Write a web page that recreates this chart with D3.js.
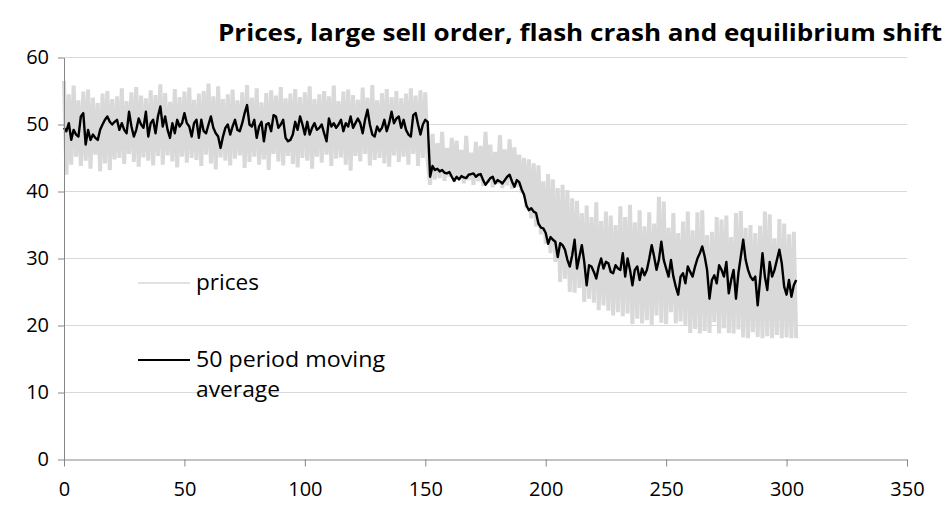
<!DOCTYPE html>
<html>
<head>
<meta charset="utf-8">
<script src="https://cdn.jsdelivr.net/npm/d3@7/dist/d3.min.js"></script>
<style>
  html, body { margin: 0; padding: 0; background: #fff; }
  svg { display: block; font-family: "Open Sans", sans-serif; }
</style>
</head>
<body>
<svg id="chart" width="947" height="510"></svg>
<script>
// ---- data (period index = position in array) ----
const titleText = "Prices, large sell order, flash crash and equilibrium shift";
const xTicks = [0, 50, 100, 150, 200, 250, 300, 350];
const yTicks = [0, 10, 20, 30, 40, 50, 60];
const seriesNames = ["prices", "50 period moving average"];

const prices = [
  // 0-49
  56.5, 42.5, 54.5, 44.0, 55.8, 45.2, 53.6, 43.8, 54.9, 44.6,
  55.2, 43.4, 54.0, 45.5, 53.2, 43.0, 54.6, 44.2, 55.0, 43.2,
  53.8, 44.8, 54.2, 45.0, 55.4, 44.1, 53.5, 45.6, 54.8, 44.4,
  55.6, 43.7, 54.3, 45.1, 53.9, 44.6, 55.1, 43.9, 54.4, 45.3,
  56.0, 44.0, 54.7, 45.4, 53.4, 44.5, 55.3, 43.6, 54.1, 45.2,
  // 50-99
  54.9, 44.3, 55.5, 45.0, 53.7, 44.7, 54.6, 43.8, 55.0, 45.5,
  56.1, 44.2, 54.2, 43.3, 55.7, 45.1, 53.8, 44.6, 54.5, 43.9,
  55.2, 44.9, 53.6, 45.4, 54.8, 43.5, 55.9, 44.4, 54.0, 45.2,
  55.4, 44.0, 53.3, 44.8, 54.7, 43.2, 55.1, 45.6, 54.3, 44.5,
  55.6, 43.9, 53.9, 45.3, 54.6, 44.1, 55.3, 43.6, 54.1, 45.0,
  // 100-151
  54.8, 44.6, 55.7, 43.4, 53.8, 45.2, 54.5, 44.3, 55.0, 45.5,
  54.2, 43.8, 55.8, 44.9, 53.5, 45.1, 54.9, 44.0, 55.2, 43.1,
  54.4, 45.3, 53.7, 44.5, 55.5, 45.6, 54.0, 43.9, 55.9, 44.7,
  53.6, 45.0, 54.7, 44.2, 55.3, 43.7, 54.1, 45.4, 55.0, 44.4,
  53.9, 45.2, 54.6, 44.0, 55.4, 45.6, 54.3, 43.8, 55.1, 45.0,
  54.8, 44.6,
  // 152-191 (after the large sell order)
  41.0, 48.6, 41.8, 47.2, 42.0, 48.9, 41.6, 46.5, 42.2, 48.0,
  41.4, 47.6, 41.9, 46.2, 41.2, 48.3, 41.7, 45.8, 41.0, 47.4,
  41.5, 46.8, 40.8, 48.9, 41.3, 47.0, 40.6, 45.9, 41.1, 48.4,
  40.5, 46.3, 40.9, 47.8, 40.4, 46.6, 40.7, 45.5, 39.8, 45.0,
  // 192-205 (crash)
  37.5, 44.8, 36.0, 44.2, 34.8, 43.9, 33.6, 41.5, 32.2, 42.6,
  30.8, 41.8, 29.5, 40.5,
  // 206-304 (new equilibrium)
  26.5, 41.0, 27.0, 40.2, 25.0, 39.0,
  24.9, 38.6, 25.6, 36.8, 23.5, 37.9,
  24.0, 36.2, 23.4, 38.4, 22.3, 35.6,
  23.0, 37.0, 22.2, 36.4, 21.5, 35.0,
  22.0, 37.8, 21.4, 36.2, 21.8, 38.0,
  20.2, 35.4, 21.0, 37.2, 20.3, 34.8,
  20.8, 36.9, 20.1, 35.2, 21.5, 39.2,
  20.4, 38.5, 20.2, 34.6, 22.0, 36.8,
  20.3, 33.8, 20.6, 35.5, 20.1, 37.0,
  18.9, 34.2, 19.5, 36.9, 18.8, 37.2,
  19.2, 33.5, 18.9, 34.0, 20.5, 36.2,
  18.8, 35.8, 19.6, 36.4, 18.9, 33.2,
  18.8, 36.8, 19.4, 37.1, 18.2, 34.6,
  18.1, 35.0, 19.0, 33.8, 18.3, 34.9,
  18.1, 37.0, 18.4, 36.6, 18.1, 33.0,
  18.6, 35.9, 18.1, 35.2, 18.2, 33.6,
  18.1, 34.0, 18.1
];

const movingAverage = [
  // 0-50
  49.5, 49.0, 50.2, 47.7, 49.2, 48.5, 48.2, 51.2, 51.7, 47.0,
  49.2, 47.7, 48.5, 48.0, 47.7, 49.2, 50.0, 50.7, 51.2, 50.4,
  50.0, 50.4, 50.7, 49.2, 50.2, 49.2, 48.7, 51.9, 49.7, 48.2,
  49.2, 50.9, 50.0, 49.5, 51.9, 48.2, 50.2, 50.7, 48.7, 51.2,
  52.7, 49.7, 51.2, 49.2, 48.0, 50.2, 48.7, 50.7, 49.7, 50.2,
  51.7,
  // 51-101
  50.2, 49.7, 48.2, 50.2, 50.7, 48.0, 50.7, 49.0, 48.7, 50.0,
  51.2, 49.5, 48.7, 48.2, 46.5, 48.2, 49.5, 50.0, 48.5, 49.7,
  50.7, 49.2, 49.0, 50.2, 51.7, 52.9, 50.0, 49.7, 50.7, 48.0,
  49.7, 50.4, 47.5, 50.0, 50.2, 49.0, 51.4, 51.2, 49.5, 50.0,
  50.7, 48.0, 47.5, 47.7, 48.5, 50.4, 49.2, 51.2, 50.0, 48.5,
  50.4,
  // 102-151
  48.5, 49.5, 50.2, 49.2, 49.5, 50.0, 48.7, 47.5, 50.9, 49.7,
  50.2, 49.5, 50.0, 50.7, 49.0, 50.2, 49.7, 51.2, 49.5, 50.2,
  50.9, 50.2, 48.7, 50.7, 52.2, 50.0, 48.5, 48.2, 49.7, 49.0,
  49.5, 50.7, 49.0, 50.2, 51.9, 50.2, 50.9, 51.2, 49.5, 50.7,
  49.2, 48.5, 48.2, 51.4, 51.7, 50.0, 48.5, 50.0, 50.7, 50.4,
  // 152-205
  42.2, 43.8, 43.2, 43.4, 43.0, 43.2, 42.8, 42.7, 42.9, 42.2,
  41.6, 42.2, 41.8, 42.3, 42.1, 42.0, 42.5, 42.6, 42.7, 42.2,
  42.5, 42.6, 41.7, 41.0, 41.5, 42.0, 42.2, 41.2, 41.7, 41.5,
  41.2, 41.7, 42.2, 42.5, 41.5, 40.7, 41.7, 41.4, 40.3, 39.5,
  37.9, 37.2, 37.5, 37.0, 36.8, 35.2, 34.6, 34.5, 33.8, 32.2,
  33.2, 32.8, 32.5, 30.2,
  // 206-304
  32.3, 32.0, 31.3, 29.8, 28.8, 30.5, 32.8, 28.5, 30.3, 32.0,
  29.5, 26.0, 29.0, 28.8, 28.0, 27.0, 28.8, 30.0, 28.5, 29.5,
  29.3, 28.0, 27.8, 29.0, 28.5, 28.3, 30.8, 27.3, 30.0, 28.3,
  26.0, 28.3, 28.8, 26.8, 28.5, 27.5, 28.3, 30.0, 32.0, 30.3,
  28.3, 29.8, 32.5, 29.8, 28.5, 27.3, 29.8, 27.3, 25.8, 24.6,
  27.3, 27.8, 26.3, 28.8, 28.0, 27.3, 28.8, 30.0, 30.8, 31.8,
  30.3, 28.3, 24.0, 26.8, 27.5, 26.3, 29.0, 28.3, 27.3, 29.5,
  24.8, 26.8, 28.3, 24.0, 27.8, 30.3, 32.8, 29.8, 28.3, 27.3,
  26.8, 27.3, 23.0, 26.8, 30.8, 27.3, 25.3, 29.5, 27.3, 28.3,
  29.8, 31.3, 29.3, 25.8, 24.6, 26.8, 24.3, 26.0, 26.8
];

// ---- layout ----
const svg = d3.select("#chart");
const x = d3.scaleLinear().domain([0, 350]).range([64, 907]);
const y = d3.scaleLinear().domain([0, 60]).range([459.5, 57.5]);

const axisColor = "#868686";
const gridColor = "#d9d9d9";
const textColor = "#000";
const font = "'Open Sans', sans-serif";

// gridlines
svg.append("g").selectAll("line")
  .data(yTicks.filter(d => d > 0))
  .join("line")
  .attr("x1", x(0)).attr("x2", x(350))
  .attr("y1", d => y(d)).attr("y2", d => y(d))
  .attr("stroke", gridColor).attr("stroke-width", 1);

// prices (grey)
const line = d3.line().x((d, i) => x(i)).y(d => y(d));
svg.append("path")
  .datum(prices)
  .attr("d", line)
  .attr("fill", "none")
  .attr("stroke", "#d9d9d9")
  .attr("stroke-width", 4)
  .attr("stroke-linejoin", "bevel");

// moving average (black)
svg.append("path")
  .datum(movingAverage)
  .attr("d", line)
  .attr("fill", "none")
  .attr("stroke", "#000")
  .attr("stroke-width", 2.4)
  .attr("stroke-linejoin", "round");

// axes
const yAxis = svg.append("g")
  .attr("transform", `translate(${x(0)},0)`)
  .call(d3.axisLeft(y).tickValues(yTicks).tickSize(6).tickSizeOuter(0).tickPadding(9));
const xAxis = svg.append("g")
  .attr("transform", `translate(0,${y(0)})`)
  .call(d3.axisBottom(x).tickValues(xTicks).tickSize(7).tickSizeOuter(0).tickPadding(15));

[yAxis, xAxis].forEach(g => {
  g.select(".domain").attr("stroke", axisColor).attr("stroke-width", 1);
  g.selectAll(".tick line").attr("stroke", axisColor).attr("stroke-width", 1);
  g.selectAll(".tick text")
    .attr("fill", textColor)
    .style("font-size", "20px")
    .style("font-family", font);
});

// title
svg.append("text")
  .attr("x", 942).attr("y", 41)
  .attr("text-anchor", "end")
  .attr("textLength", 724)
  .attr("lengthAdjust", "spacingAndGlyphs")
  .style("font-size", "24px")
  .style("font-weight", "bold")
  .style("font-family", font)
  .attr("fill", textColor)
  .text(titleText);

// legend
const legend = svg.append("g").style("font-family", font);
legend.append("line")
  .attr("x1", 138).attr("x2", 190).attr("y1", 283).attr("y2", 283)
  .attr("stroke", "#d9d9d9").attr("stroke-width", 1.5);
legend.append("text")
  .attr("x", 196).attr("y", 290)
  .attr("textLength", 63).attr("lengthAdjust", "spacingAndGlyphs")
  .style("font-size", "21px").attr("fill", textColor)
  .text(seriesNames[0]);
legend.append("line")
  .attr("x1", 138).attr("x2", 190).attr("y1", 360).attr("y2", 360)
  .attr("stroke", "#000").attr("stroke-width", 2);
const t2 = legend.append("text")
  .attr("x", 196).attr("y", 367)
  .style("font-size", "21px").attr("fill", textColor);
t2.append("tspan").attr("x", 196)
  .attr("textLength", 189).attr("lengthAdjust", "spacingAndGlyphs")
  .text("50 period moving");
t2.append("tspan").attr("x", 196).attr("dy", 30)
  .attr("textLength", 84).attr("lengthAdjust", "spacingAndGlyphs")
  .text("average");
</script>
</body>
</html>
